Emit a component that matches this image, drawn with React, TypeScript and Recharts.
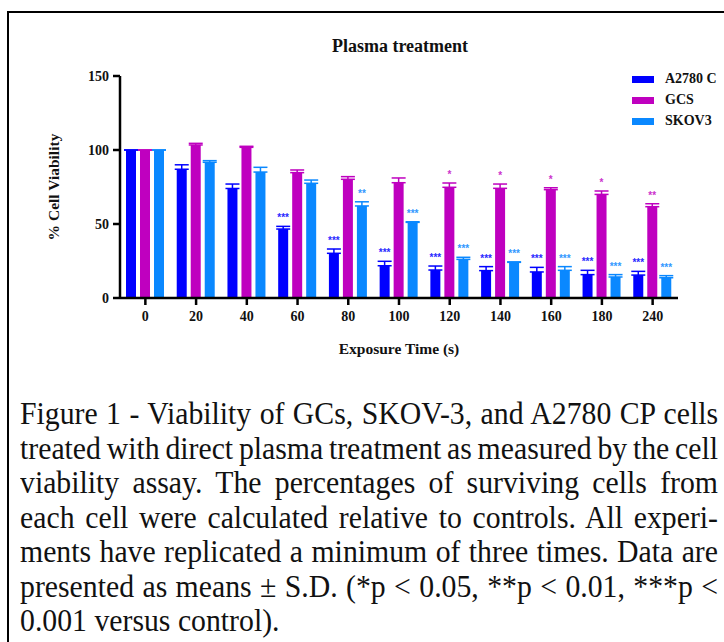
import React from 'react';
import { BarChart, Bar, XAxis, YAxis, ErrorBar, LabelList, Legend } from 'recharts';

const times = ['0', '20', '40', '60', '80', '100', '120', '140', '160', '180', '240'];

const a2780 = [100, 87, 74, 46.6, 30.2, 21.8, 18.9, 18.5, 17.6, 15.8, 15.5];
const a2780Sd = [0, 3, 3, 1.8, 2.9, 3, 2.7, 2.7, 3.1, 2.9, 2.5];
const a2780Stars = ['', '', '', '***', '***', '***', '***', '***', '***', '***', '***'];

const gcs = [100, 103.4, 101.8, 84.7, 80.2, 77.9, 74.8, 74.1, 73.2, 70, 61.7];
const gcsSd = [0, 1.1, 0.7, 1.8, 1.8, 3.2, 2.9, 2.9, 1.3, 2.3, 2];
const gcsStars = ['', '', '', '', '', '', '*', '*', '*', '*', '**'];

const skov3 = [100, 91.7, 85.1, 77.5, 62.2, 51.1, 26.1, 24.1, 18.7, 14.2, 13.7];
const skov3Sd = [0, 1.1, 3.2, 2.2, 2.8, 0.4, 1.4, 0.3, 2.5, 1.6, 1.4];
const skov3Stars = ['', '', '', '', '**', '***', '***', '***', '***', '***', '***'];

const yTicks = [0, 50, 100, 150];

const seriesNames = ['A2780 C', 'GCS', 'SKOV3'];
const seriesColors = ['#0000ff', '#bf00bf', '#0a88ff'];

const titleText = 'Plasma treatment';
const xTitle = 'Exposure Time (s)';
const yTitle = '% Cell Viability';

const captionLines = [
  'Figure 1 - Viability of GCs, SKOV-3, and A2780 CP cells',
  'treated with direct plasma treatment as measured by the cell',
  'viability assay. The percentages of surviving cells from',
  'each cell were calculated relative to controls. All experi-',
  'ments have replicated a minimum of three times. Data are',
  'presented as means \u00b1 S.D. (*p < 0.05, **p < 0.01, ***p <',
  '0.001 versus control).',
];

const data = times.map((t, i) => ({
  time: t,
  a: a2780[i],
  aErr: [0, a2780Sd[i]],
  g: gcs[i],
  gErr: [0, gcsSd[i]],
  s: skov3[i],
  sErr: [0, skov3Sd[i]],
}));

const SERIF = '"Liberation Serif", "Times New Roman", serif';
const CAP_SCALE = 0.93;

const makeStars = (stars: string[], sds: number[], values: number[], color: string) => (props: any) => {
  const index = props.index;
  const vb = props.viewBox || {};
  const x = props.x ?? vb.x;
  const y = props.y ?? vb.y;
  const w = props.width ?? vb.width;
  const h = Math.abs(props.height ?? vb.height);
  const s = stars[index];
  if (!s || x == null) return null;
  const v = values[index];
  const errPx = v ? (sds[index] * h) / v : 0;
  return (
    <text
      x={x + w / 2}
      y={y - errPx - 5}
      textAnchor="middle"
      fill={color}
      fontSize={10}
      fontWeight="bold"
      fontFamily='"Liberation Sans", Arial, sans-serif'
    >
      {s}
    </text>
  );
};

const renderLegend = () => (
  <div style={{ position: 'relative', width: 110, height: 60 }}>
    {seriesNames.map((n, i) => (
      <div
        key={n}
        style={{
          position: 'absolute',
          left: 0,
          top: i * 21,
          height: 14,
          display: 'flex',
          alignItems: 'center',
          whiteSpace: 'nowrap',
        }}
      >
        <span style={{ display: 'inline-block', width: 22, height: 7, background: seriesColors[i], marginRight: 11 }} />
        <span style={{ fontFamily: SERIF, fontWeight: 'bold', fontSize: 14, color: '#111' }}>{n}</span>
      </div>
    ))}
  </div>
);

export default function App() {
  return (
    <div
      style={{
        position: 'absolute',
        left: 0,
        top: 0,
        width: 724,
        height: 642,
        overflow: 'hidden',
        background: '#fff',
      }}
    >
      <div
        style={{
          position: 'absolute',
          left: 7,
          top: 11,
          width: 800,
          height: 800,
          borderLeft: '2px solid #000',
          borderTop: '2px solid #000',
        }}
      />
      <div
        style={{
          position: 'absolute',
          left: 0,
          top: 36,
          width: 800,
          textAlign: 'center',
          fontFamily: SERIF,
          fontWeight: 'bold',
          fontSize: 18,
          color: '#111',
        }}
      >
        {titleText}
      </div>
      <div style={{ position: 'absolute', left: 0, top: 0 }}>
        <BarChart
          width={724}
          height={380}
          data={data}
          margin={{ top: 76, right: 46, left: 60, bottom: 52 }}
          barSize={10}
          barGap={4}
        >
          <XAxis
            dataKey="time"
            height={30}
            axisLine={{ stroke: '#000', strokeWidth: 2.5 }}
            tickLine={{ stroke: '#000', strokeWidth: 2.5 }}
            tickSize={7}
            tickMargin={6}
            tick={{ fill: '#111', fontFamily: SERIF, fontWeight: 'bold', fontSize: 14 }}
            interval={0}
            label={{
              content: (p: any) => {
                const vb = p.viewBox || {};
                return (
                  <text
                    x={vb.x + vb.width / 2}
                    y={354}
                    textAnchor="middle"
                    fontFamily={SERIF}
                    fontWeight="bold"
                    fontSize={15.5}
                    fill="#111"
                  >
                    {xTitle}
                  </text>
                );
              },
            }}
          />
          <YAxis
            width={60}
            domain={[0, 150]}
            ticks={yTicks}
            axisLine={{ stroke: '#000', strokeWidth: 2.5 }}
            tickLine={{ stroke: '#000', strokeWidth: 2.5 }}
            tickSize={7}
            tickMargin={4}
            tick={{ fill: '#111', fontFamily: SERIF, fontWeight: 'bold', fontSize: 14 }}
            label={{
              content: (p: any) => {
                const vb = p.viewBox || {};
                const cy = vb.y + vb.height / 2;
                return (
                  <text
                    x={53}
                    y={cy}
                    transform={`rotate(-90, 53, ${cy})`}
                    textAnchor="middle"
                    dominantBaseline="central"
                    fontFamily={SERIF}
                    fontWeight="bold"
                    fontSize={15.5}
                    fill="#111"
                  >
                    {yTitle}
                  </text>
                );
              },
            }}
          />
          <Legend
            layout="vertical"
            align="center"
            verticalAlign="middle"
            content={renderLegend}
            wrapperStyle={{ position: 'absolute', left: 632, top: 72, width: 110, height: 60 }}
          />
          <Bar dataKey="a" name={seriesNames[0]} fill={seriesColors[0]} isAnimationActive={false}>
            <ErrorBar dataKey="aErr" width={7} stroke={seriesColors[0]} strokeWidth={1.5} direction="y" isAnimationActive={false} />
            <LabelList dataKey="a" content={makeStars(a2780Stars, a2780Sd, a2780, '#2a2aff')} />
          </Bar>
          <Bar dataKey="g" name={seriesNames[1]} fill={seriesColors[1]} isAnimationActive={false}>
            <ErrorBar dataKey="gErr" width={7} stroke={seriesColors[1]} strokeWidth={1.5} direction="y" isAnimationActive={false} />
            <LabelList dataKey="g" content={makeStars(gcsStars, gcsSd, gcs, '#cc33cc')} />
          </Bar>
          <Bar dataKey="s" name={seriesNames[2]} fill={seriesColors[2]} isAnimationActive={false}>
            <ErrorBar dataKey="sErr" width={7} stroke={seriesColors[2]} strokeWidth={1.5} direction="y" isAnimationActive={false} />
            <LabelList dataKey="s" content={makeStars(skov3Stars, skov3Sd, skov3, '#3399ff')} />
          </Bar>
        </BarChart>
      </div>
      <div
        style={{
          position: 'absolute',
          left: 20,
          top: 396,
          width: 698 / CAP_SCALE,
          transform: `scaleX(${CAP_SCALE})`,
          transformOrigin: 'left top',
          fontFamily: SERIF,
          fontSize: 32,
          lineHeight: '34.5px',
          color: '#111',
        }}
      >
        {captionLines.map((l, i) => {
          const last = i === captionLines.length - 1;
          return (
            <div
              key={i}
              style={{
                whiteSpace: 'nowrap',
                textAlign: 'justify',
                textAlignLast: last ? 'left' : 'justify',
                wordSpacing: last ? 0 : -3,
              }}
            >
              {l}
            </div>
          );
        })}
      </div>
    </div>
  );
}
